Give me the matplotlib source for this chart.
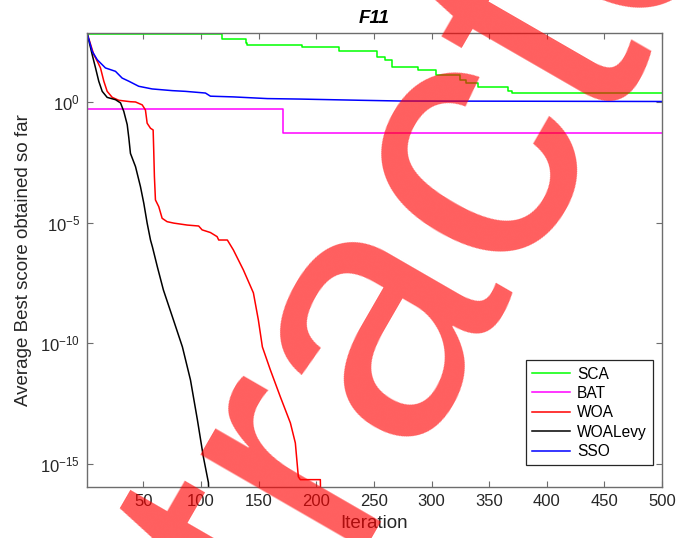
import matplotlib
matplotlib.use('Agg')
import matplotlib.pyplot as plt

plt.rcParams['font.family'] = ['Liberation Sans', 'DejaVu Sans']

# ---- data (iteration, best score) ----
sca_it = [1, 118, 139, 140, 188, 220, 253, 260, 266, 288, 304, 325, 330, 340, 366, 370, 500]
sca_val = [640, 407, 275, 224, 186, 126, 76, 56, 28.8, 21.4, 13.2, 8.1, 5.9, 4.07, 2.95, 2.43, 2.43]

bat_it = [1, 171, 500]
bat_val = [0.525, 0.050, 0.050]

woa_it = [1, 6.9, 9.9, 12.7, 15.6, 18.5, 22.9, 28.6, 38.7, 43.1, 48.9, 51.7, 53.2, 56.1,
          58.4, 58.9, 59.5, 60.4, 63.3, 66.2, 70.5, 76.3, 87.9, 97.9, 100.9, 108.1, 113.9,
          115.3, 122.8, 128, 132.4, 136.7, 145.4, 149.7, 153.2, 160.1, 168.8, 177.5, 181.8,
          184.4, 186.1, 203.5, 203.6]
woa_log = [2.86, 1.96, 1.69, 1.41, 0.86, 0.44, 0.19, 0.07, 0.01, 0.0, -0.12, -0.33, -0.88, -1.09,
           -1.16, -1.99, -3.09, -4.06, -4.34, -4.82, -4.96, -5.02, -5.10, -5.14, -5.30, -5.41, -5.58,
           -5.72, -5.72, -6.13, -6.55, -6.96, -7.91, -9.03, -10.15, -11.10, -12.22, -13.30, -14.13,
           -15.53, -15.65, -15.65, -15.96]

levy_it = [1, 5.5, 8.4, 11.2, 14.2, 18.5, 25.7, 30.1, 32.9, 35.9, 37.3, 38.7, 43.1, 47.4, 50.3,
           53.2, 56.1, 57.8, 62.1, 67.3, 76, 83.8, 90.8, 96.8, 102, 106.4, 106.5]
levy_log = [2.86, 1.96, 1.41, 0.86, 0.44, 0.19, 0.095, -0.04, -0.385, -0.94, -1.49, -2.13, -2.68,
            -3.51, -4.20, -5.02, -5.72, -6.01, -6.84, -7.79, -9.03, -10.15, -11.52, -13.17, -14.71,
            -15.78, -15.96]

sso_it = [1, 5.5, 9.9, 17, 25.7, 31.5, 37.3, 45.9, 57.5, 74.9, 86.4, 103.8, 108.1, 128, 157.5,
          186.1, 212.1, 238.2, 272.8, 500]
sso_log = [2.86, 2.10, 1.75, 1.41, 1.27, 0.99, 0.86, 0.65, 0.54, 0.47, 0.44, 0.37, 0.24, 0.21,
           0.14, 0.12, 0.095, 0.07, 0.04, 0.02]

woa_val = [10 ** v for v in woa_log]
levy_val = [10 ** v for v in levy_log]
sso_val = [10 ** v for v in sso_log]

fig = plt.figure(figsize=(6.78, 5.38), dpi=100)
ax = fig.add_axes([87 / 678, 51 / 538, 575 / 678, 454 / 538])

lw = 1.1
ax.semilogy(sca_it, sca_val, color='#00ff00', lw=lw, drawstyle='steps-post', label='SCA')
ax.semilogy(bat_it, bat_val, color='#ff00ff', lw=lw, drawstyle='steps-post', label='BAT')
ax.semilogy(woa_it, woa_val, color='#ff0000', lw=lw, label='WOA')
ax.semilogy(levy_it, levy_val, color='#000000', lw=lw, label='WOALevy')
ax.semilogy(sso_it, sso_val, color='#0000ff', lw=lw, label='SSO')

ax.set_xlim(1, 500)
ax.set_ylim(1.11e-16, 721)
ax.set_xticks(range(50, 501, 50))
ax.set_yticks([1e-15, 1e-10, 1e-5, 1e0])
ax.minorticks_off()
ax.tick_params(direction='in', length=4, width=0.8, top=True, right=True,
               labelsize=12, colors='#262626', pad=5)
ax.tick_params(axis='both', color='#6d6d6d')
for s in ax.spines.values():
    s.set_color('#6d6d6d')
    s.set_linewidth(1.0)

ax.set_xlabel('Iteration', fontsize=13.5, color='#262626', labelpad=4)
ax.set_ylabel('Average Best score obtained so far', fontsize=13.5, color='#262626', labelpad=6)
ax.set_title('F11', fontsize=13.5, fontweight='bold', fontstyle='italic', pad=7)

leg = ax.legend(loc='lower right', bbox_to_anchor=(0.984, 0.048), borderaxespad=0,
                fontsize=11.2, fancybox=False, handlelength=2.4, labelspacing=0.28,
                borderpad=0.4, handletextpad=0.45, framealpha=1)
leg.get_frame().set_edgecolor('#262626')
leg.get_frame().set_linewidth(0.9)

# red watermark across the figure
fig.text(449 / 678, 1 - 353 / 538, 'Retracted', fontsize=260, color='red', alpha=0.63,
         rotation=60, rotation_mode='anchor', ha='center', va='baseline', zorder=10)

fig.savefig('out.png', dpi=100)
